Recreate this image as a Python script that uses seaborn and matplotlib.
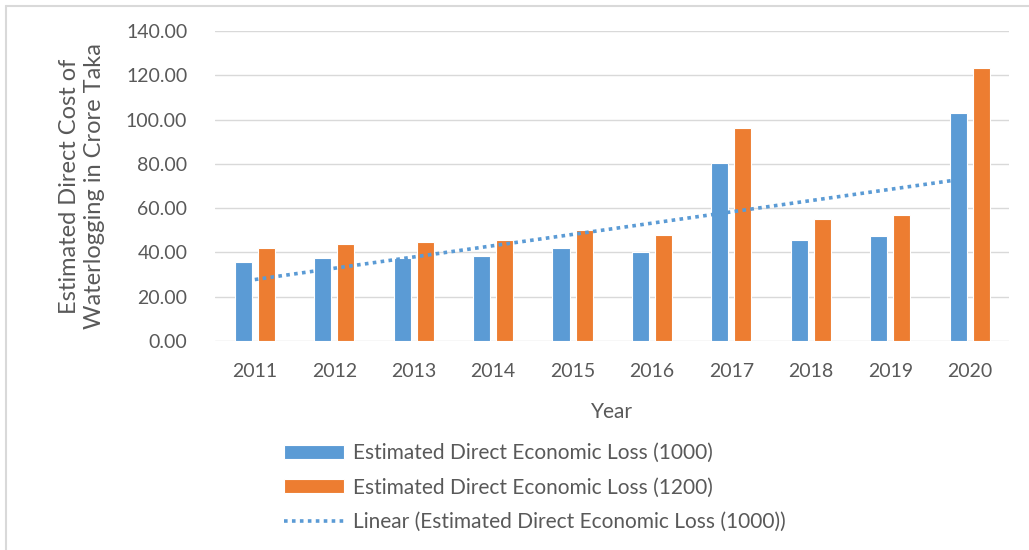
import numpy as np
import pandas as pd
import matplotlib
matplotlib.use('Agg')
import matplotlib.pyplot as plt
from matplotlib.lines import Line2D
import seaborn as sns

years = ['2011', '2012', '2013', '2014', '2015', '2016', '2017', '2018', '2019', '2020']
loss_1000 = [35.5, 37.4, 37.4, 38.4, 41.9, 40.1, 80.3, 45.6, 47.4, 102.8]
loss_1200 = [41.9, 43.8, 44.7, 45.6, 50.3, 47.9, 96.1, 55.0, 56.9, 123.2]
series_names = ['Estimated Direct Economic Loss (1000)', 'Estimated Direct Economic Loss (1200)']
trend_name = 'Linear (Estimated Direct Economic Loss (1000))'

blue = '#5B9BD5'
orange = '#ED7D31'
txt = '#595959'
grid = '#D9D9D9'

df = pd.DataFrame({
    'Year': years * 2,
    'Loss': loss_1000 + loss_1200,
    'Series': [series_names[0]] * len(years) + [series_names[1]] * len(years),
})

sns.set_style('white')
plt.rcParams['font.family'] = ['Lato', 'DejaVu Sans']

fig = plt.figure(figsize=(10.29, 5.5), dpi=100)
ax = fig.add_axes([0.209, 0.38, 0.772, 0.5636])

sns.barplot(data=df, x='Year', y='Loss', hue='Series', order=years,
            hue_order=series_names, palette=[blue, orange], width=0.58, gap=0.26,
            saturation=1, edgecolor='white', linewidth=0.8, ax=ax)

# trendline of the 1000 series
sns.regplot(x=np.arange(len(years)), y=np.array(loss_1000), scatter=False, ci=None,
            truncate=True, color=blue, label=trend_name,
            line_kws={'linestyle': (0, (1, 1.2)), 'linewidth': 2.6}, ax=ax)

ax.set_xlim(-0.5, len(years) - 0.5)
ax.set_ylim(0, 140)
ax.set_yticks(np.arange(0, 141, 20))
ax.set_yticklabels([f'{v:.2f}' for v in np.arange(0, 141, 20)])
ax.yaxis.grid(True, color=grid, linewidth=1)
ax.set_axisbelow(True)
for s in ['left', 'right', 'top', 'bottom']:
    ax.spines[s].set_visible(False)
ax.tick_params(axis='both', length=0, colors=txt, labelsize=14)
ax.tick_params(axis='y', pad=20)
ax.tick_params(axis='x', pad=16)

ax.set_xlabel('Year', color=txt, fontsize=15, labelpad=16)
ax.set_ylabel('Estimated Direct Cost of\nWaterlogging in Crore Taka', color=txt,
              fontsize=17, labelpad=15, linespacing=1.25)

handles, labels = ax.get_legend_handles_labels()
ax.legend(handles, labels, loc='upper left', bbox_to_anchor=(0.063, -0.269),
          frameon=False, fontsize=15, handlelength=2.9, handleheight=0.65,
          labelspacing=0.7, handletextpad=0.4, labelcolor=txt)

# chart frame lines
fig.add_artist(Line2D([6 / 1029, 6 / 1029], [0, 1 - 6 / 550], color=grid, linewidth=1.5))
fig.add_artist(Line2D([6 / 1029, 1], [1 - 6 / 550, 1 - 6 / 550], color=grid, linewidth=1.5))

fig.savefig('out.png', dpi=100, facecolor='white')
